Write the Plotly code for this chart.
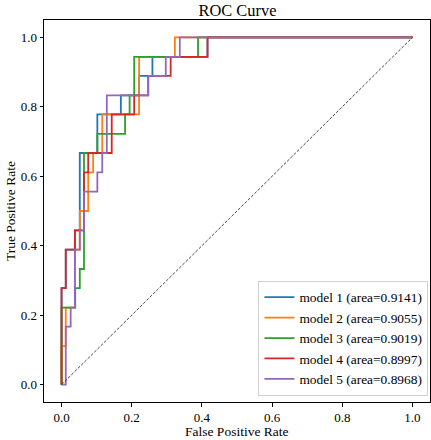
import plotly.graph_objects as go

# ---- data ----
k = [round(i / 18, 3) for i in range(19)]  # TPR levels (18 positives)

model_names = ["model 1 (area=0.9141)", "model 2 (area=0.9055)", "model 3 (area=0.9019)",
               "model 4 (area=0.8997)", "model 5 (area=0.8968)"]
colors = ["#1f77b4", "#ff7f0e", "#2ca02c", "#d62728", "#9467bd"]

m1_fpr = [0, 0, 0.012, 0.012, 0.038, 0.038, 0.052, 0.052, 0.102, 0.102, 0.169, 0.169, 0.221, 0.221, 0.259, 0.259, 0.416, 0.416, 1.0]
m1_tpr = [0, k[5], k[5], k[7], k[7], k[8], k[8], k[12], k[12], k[14], k[14], k[15], k[15], k[16], k[16], k[17], k[17], 1.0, 1.0]

m2_fpr = [0, 0, 0.012, 0.012, 0.038, 0.038, 0.052, 0.052, 0.076, 0.076, 0.090, 0.090, 0.116, 0.116, 0.221, 0.221, 0.323, 0.323, 1.0]
m2_tpr = [0, k[2], k[2], k[4], k[4], k[7], k[7], k[9], k[9], k[11], k[11], k[12], k[12], k[14], k[14], k[17], k[17], 1.0, 1.0]

m3_fpr = [0, 0, 0.039, 0.039, 0.052, 0.052, 0.064, 0.064, 0.102, 0.102, 0.181, 0.181, 0.194, 0.194, 0.207, 0.207, 0.389, 0.389, 1.0]
m3_tpr = [0, k[4], k[4], k[5], k[5], k[6], k[6], k[12], k[12], k[13], k[13], k[14], k[14], k[15], k[15], k[17], k[17], 1.0, 1.0]

m4_fpr = [0, 0, 0.012, 0.012, 0.038, 0.038, 0.064, 0.064, 0.076, 0.076, 0.143, 0.143, 0.207, 0.207, 0.247, 0.247, 0.311, 0.311, 0.416, 0.416, 1.0]
m4_tpr = [0, k[5], k[5], k[7], k[7], k[8], k[8], k[11], k[11], k[12], k[12], k[14], k[14], k[15], k[15], k[16], k[16], k[17], k[17], 1.0, 1.0]

m5_fpr = [0, 0.012, 0.012, 0.026, 0.026, 0.038, 0.038, 0.052, 0.052, 0.064, 0.064, 0.102, 0.102, 0.116, 0.116, 0.129, 0.129, 0.247, 0.247, 0.297, 0.297, 0.337, 0.337, 1.0]
m5_tpr = [0, 0, k[3], k[3], k[4], k[4], k[7], k[7], k[8], k[8], k[10], k[10], k[11], k[11], k[12], k[12], k[15], k[15], k[16], k[16], k[17], k[17], 1.0, 1.0]

diag = [0, 1]
ticks = [0.0, 0.2, 0.4, 0.6, 0.8, 1.0]
tick_text = ["0.0", "0.2", "0.4", "0.6", "0.8", "1.0"]

FONT = "Liberation Serif, Times New Roman, serif"

fig = go.Figure()
series = [(m1_fpr, m1_tpr), (m2_fpr, m2_tpr), (m3_fpr, m3_tpr), (m4_fpr, m4_tpr), (m5_fpr, m5_tpr)]
for (x, y), name, c in zip(series, model_names, colors):
    fig.add_trace(go.Scatter(x=x, y=y, mode="lines", name=name,
                             line=dict(color=c, width=1.8)))
fig.add_trace(go.Scatter(x=diag, y=diag, mode="lines", showlegend=False,
                         line=dict(color="#333333", width=0.9, dash="3px,1.6px")))

axis_common = dict(range=[-0.05, 1.05], tickvals=ticks, ticktext=tick_text,
                   ticks="outside", ticklen=3.5, tickwidth=1, tickcolor="black",
                   showline=True, linecolor="black", linewidth=1, mirror=True,
                   showgrid=False, zeroline=False,
                   tickfont=dict(family=FONT, size=13, color="black"))

fig.update_layout(
    width=431, height=440,
    margin=dict(l=44, r=1, t=20, b=38),
    paper_bgcolor="white", plot_bgcolor="white",
    font=dict(family=FONT, size=13.7, color="black"),
    title=dict(text="ROC Curve", x=0.551, xanchor="center", y=0.977, yanchor="middle",
               font=dict(family=FONT, size=16.4, color="black")),
    xaxis=dict(**axis_common),
    yaxis=dict(**axis_common),
    annotations=[
        dict(text="False Positive Rate", xref="paper", yref="paper", x=0.5, y=-0.0775,
             xanchor="center", yanchor="middle", showarrow=False,
             font=dict(family=FONT, size=13.5, color="black")),
        dict(text="True Positive Rate", xref="paper", yref="paper", x=-0.088, y=0.5,
             xanchor="center", yanchor="middle", textangle=-90, showarrow=False,
             font=dict(family=FONT, size=13.5, color="black")),
    ],
    legend=dict(x=0.996, xanchor="right", y=0.0157, yanchor="bottom",
                bgcolor="rgba(255,255,255,0.8)", bordercolor="#d0d0d0", borderwidth=1,
                font=dict(family=FONT, size=13.4, color="black"),
                tracegroupgap=0, itemwidth=30),
    showlegend=True,
)

fig.write_html("out.html", config={"displayModeBar": False},
               post_script="document.body.style.margin='0px';document.body.style.padding='0px';")
